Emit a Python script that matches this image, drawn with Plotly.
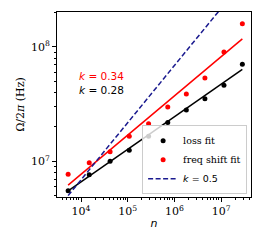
import numpy as np
import plotly.graph_objects as go

# data
n_vals = [5.3e3, 1.5e4, 4.2e4, 1.08e5, 2.8e5, 7.2e5, 1.8e6, 4.5e6, 1.15e7, 2.85e7]
loss_fit = [5.53e6, 7.63e6, 1.0e7, 1.25e7, 1.66e7, 2.19e7, 2.81e7, 3.53e7, 4.62e7, 7.06e7]
freq_fit = [7.7e6, 9.7e6, 1.21e7, 1.66e7, 2.13e7, 2.99e7, 3.88e7, 5.35e7, 9.04e7, 1.6e8]

# power-law fits: Omega = A * n^k
k_loss, logA_loss = 0.285, 5.680
k_freq, logA_freq = 0.343, 5.514
k_ref, logA_ref = 0.5, 4.838

xtick_vals = [1e4, 1e5, 1e6, 1e7]
xtick_text = ["10<sup>4</sup>", "10<sup>5</sup>", "10<sup>6</sup>", "10<sup>7</sup>"]
ytick_vals = [1e7, 1e8]
ytick_text = ["10<sup>7</sup>", "10<sup>8</sup>"]

n_arr = np.array(n_vals)
fit_loss = 10**logA_loss * n_arr**k_loss
fit_freq = 10**logA_freq * n_arr**k_freq
fit_ref = 10**logA_ref * n_arr**k_ref

SERIF = "DejaVu Serif"
SANS = "DejaVu Sans"

fig = go.Figure()
fig.add_trace(go.Scatter(x=n_vals, y=fit_loss, mode="lines",
                         line=dict(color="black", width=1.5), showlegend=False))
fig.add_trace(go.Scatter(x=n_vals, y=fit_freq, mode="lines",
                         line=dict(color="#ff0000", width=1.5), showlegend=False))
fig.add_trace(go.Scatter(x=n_vals, y=loss_fit, mode="markers", name="loss fit",
                         marker=dict(color="black", size=5)))
fig.add_trace(go.Scatter(x=n_vals, y=freq_fit, mode="markers", name="freq shift fit",
                         marker=dict(color="#ff0000", size=5)))
fig.add_trace(go.Scatter(x=n_vals, y=fit_ref, mode="lines",
                         name="<span style='font-family:DejaVu Sans'><i>k</i> = %.1f</span>" % k_ref,
                         line=dict(color="#1a1a8f", width=1.5, dash="5px,2.5px")))

minor_vals = [m * 10**e for e in range(3, 9) for m in range(2, 10)]

fig.update_xaxes(type="log", range=[3.486, 7.64], automargin=False,
                 tickmode="array", tickvals=xtick_vals, ticktext=xtick_text,
                 ticks="outside", ticklen=4, tickcolor="black",
                 minor=dict(tickmode="array", tickvals=minor_vals, ticks="outside",
                            ticklen=2, tickcolor="black", showgrid=False),
                 showgrid=False, zeroline=False,
                 showline=True, linecolor="black", linewidth=1, mirror=True,
                 tickfont=dict(family=SERIF, size=11, color="black"),
                 title=dict(text="<i>n</i>", font=dict(family=SANS, size=11, color="black"),
                            standoff=2))
fig.update_yaxes(type="log", range=[6.688, 8.306], automargin=False,
                 tickmode="array", tickvals=ytick_vals, ticktext=ytick_text,
                 ticks="outside", ticklen=4, tickcolor="black",
                 minor=dict(tickmode="array", tickvals=minor_vals, ticks="outside",
                            ticklen=2, tickcolor="black", showgrid=False),
                 showgrid=False, zeroline=False,
                 showline=True, linecolor="black", linewidth=1, mirror=True,
                 tickfont=dict(family=SERIF, size=11, color="black"),
                 title=dict(text="Ω/2<i>π</i> (Hz)", font=dict(family=SERIF, size=11, color="black"),
                            standoff=4))

fig.add_annotation(xref="paper", yref="paper", x=0.105, y=0.615, xanchor="left", yanchor="middle",
                   align="left",
                   text=("<span style='color:#ff0000'><i>k</i> = %.2f</span><br><i>k</i> = %.2f"
                         % (k_freq, k_loss)),
                   showarrow=False,
                   font=dict(family=SANS, size=10.5, color="black"))

# page body has an 8px margin: figure is sized to the remaining viewport
fig.update_layout(
    width=247, height=228,
    margin=dict(l=49, r=4, t=4, b=39),
    plot_bgcolor="white", paper_bgcolor="white",
    legend=dict(x=0.98, y=0.015, xanchor="right", yanchor="bottom",
                bgcolor="rgba(255,255,255,0.8)", bordercolor="#cccccc", borderwidth=1,
                font=dict(family=SERIF, size=9.5, color="black"),
                tracegroupgap=0, itemwidth=30),
)

fig.write_html("out.html")
